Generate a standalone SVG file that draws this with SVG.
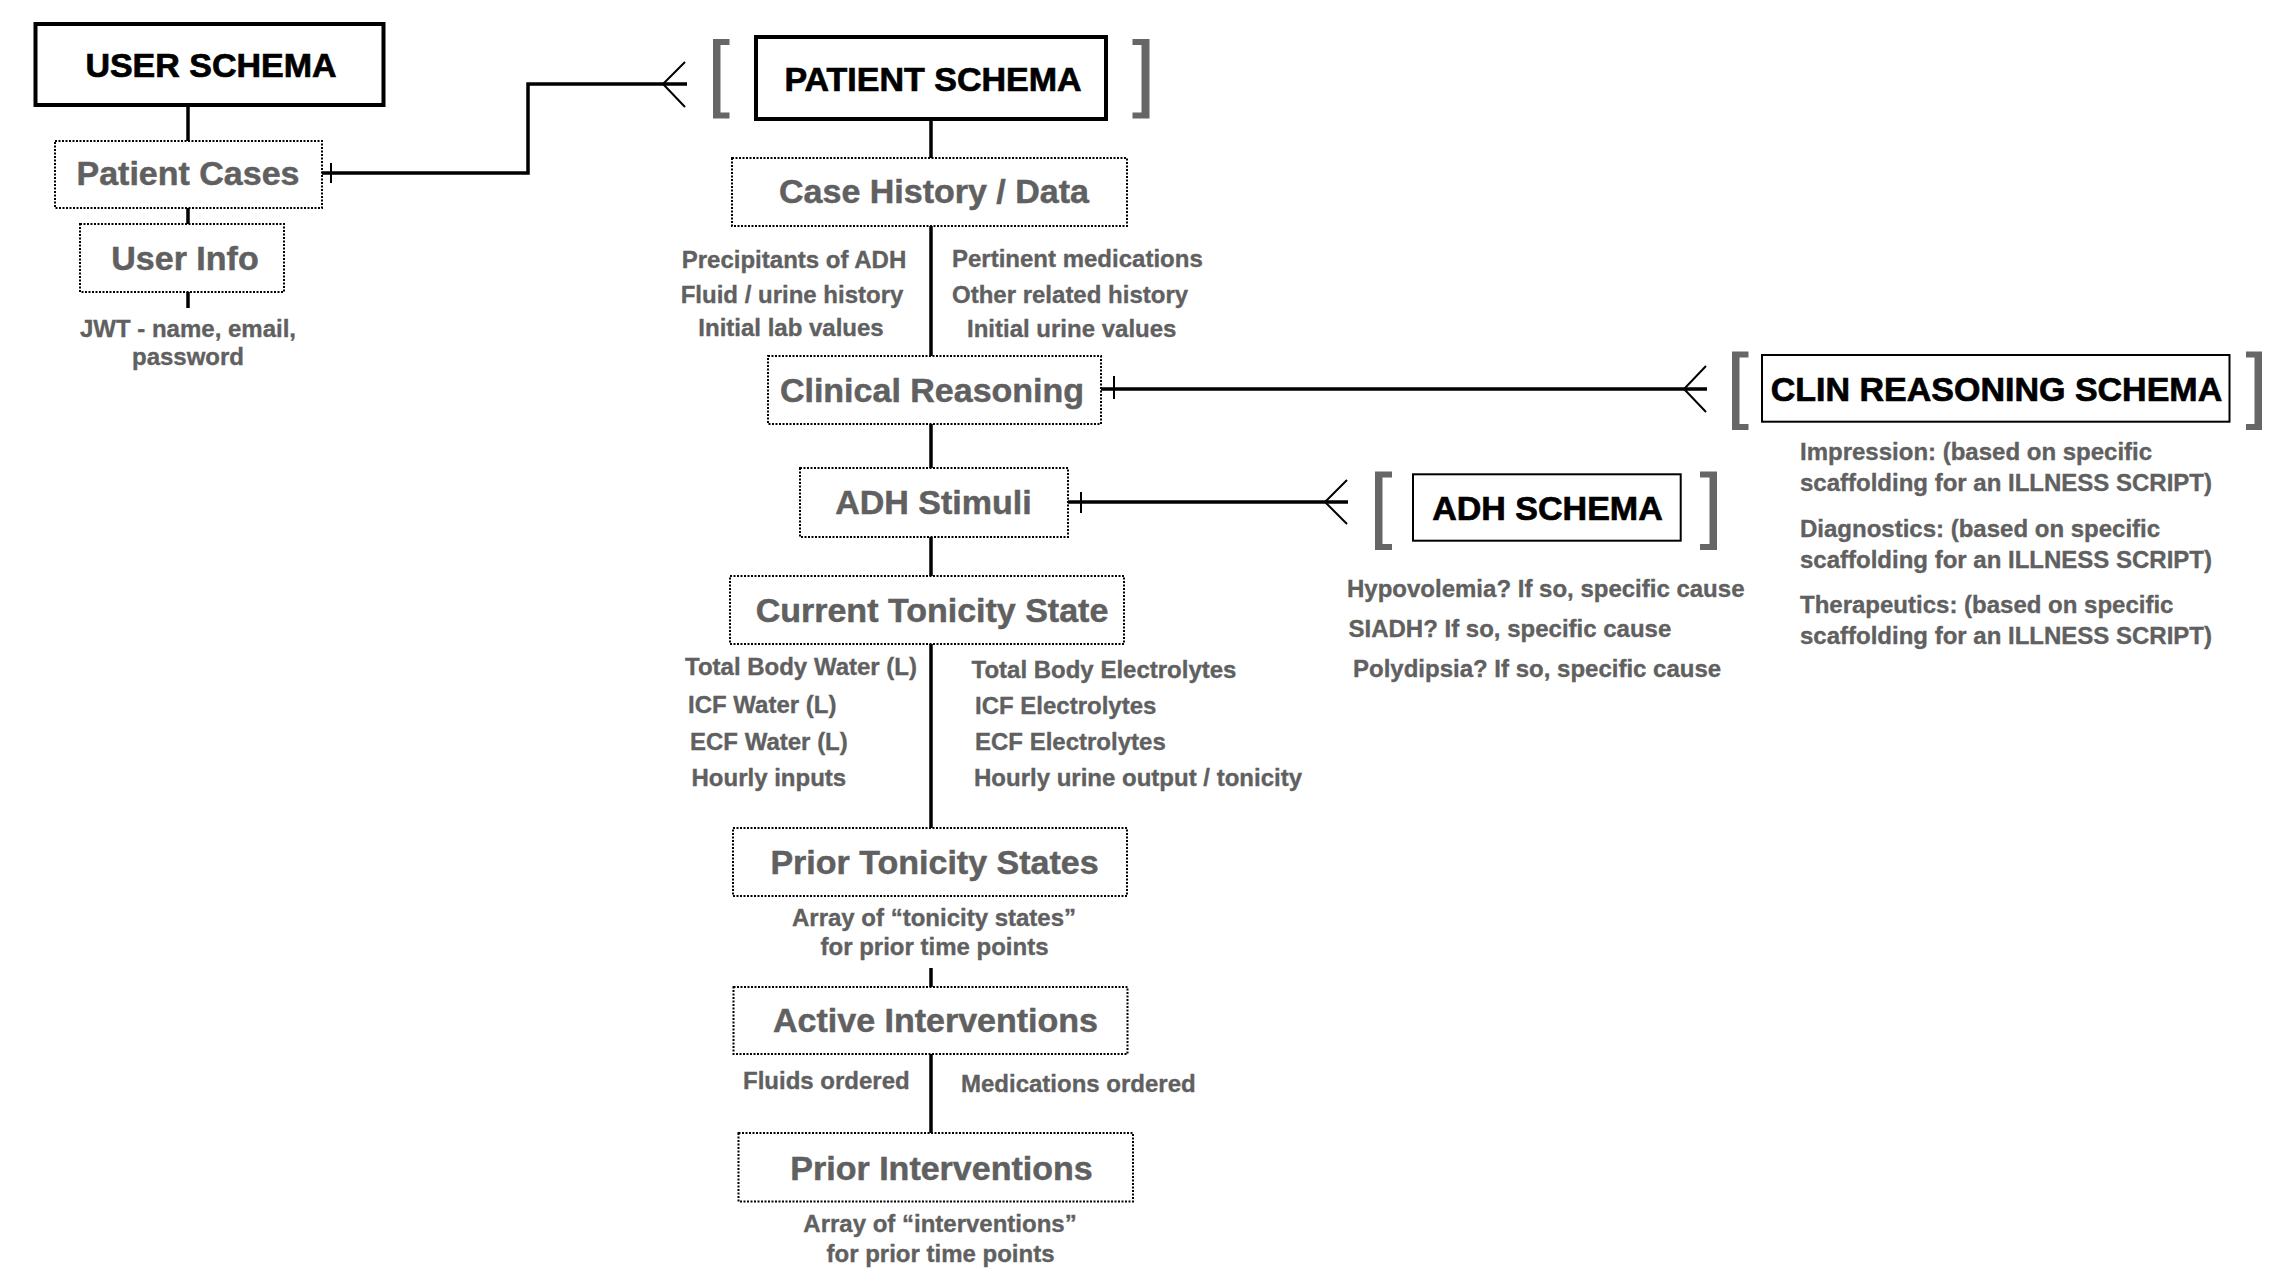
<svg xmlns="http://www.w3.org/2000/svg" width="2276" height="1286" viewBox="0 0 2276 1286">
<style>
  text { font-family: "Liberation Sans", Arial, Helvetica, sans-serif; font-weight: bold; }
  .title { font-size: 34px; fill: #000; stroke: #000; stroke-width: 0.7; text-anchor: middle; }
  .node { font-size: 34px; fill: #606060; stroke: #606060; stroke-width: 0.5; text-anchor: middle; }
  .sub { font-size: 24px; fill: #606060; stroke: #606060; stroke-width: 0.35; }
  .mid { text-anchor: middle; }
  .schema { fill: #fff; stroke: #000; stroke-width: 4; }
  .schema2 { fill: #fff; stroke: #000; stroke-width: 2; }
  .dot { fill: #fff; stroke: #000; stroke-width: 2; stroke-dasharray: 2 1.5; }
  .bracket { fill: #666; }
  .conn { fill: none; stroke: #000; stroke-width: 3.5; }
  .crow { fill: none; stroke: #000; stroke-width: 2; }
</style>
<rect width="2276" height="1286" fill="#fff"/>

<g id="connectors">
  <line class="conn" x1="188" y1="107" x2="188" y2="141"/>
  <line class="conn" x1="188" y1="208" x2="188" y2="224"/>
  <line class="conn" x1="188" y1="292" x2="188" y2="308"/>
  <path class="conn" d="M322 173 H528 V84 H687"/>
  <line class="crow" x1="331" y1="163" x2="331" y2="183"/>
  <path class="crow" d="M685 62 L663 84 L685 107"/>
  <line class="conn" x1="931" y1="121" x2="931" y2="158"/>
  <line class="conn" x1="931" y1="226" x2="931" y2="356"/>
  <line class="conn" x1="931" y1="424" x2="931" y2="468"/>
  <line class="conn" x1="931" y1="537" x2="931" y2="576"/>
  <line class="conn" x1="931" y1="644" x2="931" y2="828"/>
  <line class="conn" x1="931" y1="968" x2="931" y2="987"/>
  <line class="conn" x1="931" y1="1054" x2="931" y2="1133"/>
  <path class="conn" d="M1101 389 H1707"/>
  <line class="crow" x1="1114" y1="376" x2="1114" y2="399"/>
  <path class="crow" d="M1706 366 L1684 389 L1706 412"/>
  <path class="conn" d="M1068 502 H1348"/>
  <line class="crow" x1="1081" y1="492" x2="1081" y2="513"/>
  <path class="crow" d="M1347 480 L1325 502 L1347 524"/>
</g>

<g id="user-schema">
  <rect class="schema" x="35.5" y="24" width="348" height="81"/>
  <text class="title" x="211" y="77">USER SCHEMA</text>
</g>

<g id="patient-cases">
  <rect class="dot" x="55" y="141" width="267" height="67"/>
  <text class="node" x="188" y="185">Patient Cases</text>
</g>

<g id="user-info">
  <rect class="dot" x="80" y="224" width="204" height="68"/>
  <text class="node" x="185" y="270">User Info</text>
  <text class="sub mid" x="188" y="337">JWT - name, email,</text>
  <text class="sub mid" x="188" y="365">password</text>
</g>

<g id="patient-schema">
  <path class="bracket" d="M713 39 H729.5 V45 H720.5 V112.5 H729.5 V118.5 H713 Z"/>
  <rect class="schema" x="756" y="37" width="350" height="82"/>
  <text class="title" x="933" y="91">PATIENT SCHEMA</text>
  <path class="bracket" d="M1149.5 39 H1132.5 V45 H1141.5 V112.5 H1132.5 V118.5 H1149.5 Z"/>
</g>

<g id="case-history">
  <rect class="dot" x="732" y="158" width="395" height="68"/>
  <text class="node" x="934" y="203">Case History / Data</text>
  <text class="sub mid" x="794" y="268">Precipitants of ADH</text>
  <text class="sub mid" x="792" y="302.5">Fluid / urine history</text>
  <text class="sub mid" x="791" y="336">Initial lab values</text>
  <text class="sub" x="952" y="267">Pertinent medications</text>
  <text class="sub" x="952" y="302.5">Other related history</text>
  <text class="sub" x="967" y="336.5">Initial urine values</text>
</g>

<g id="clinical-reasoning">
  <rect class="dot" x="768" y="356" width="333" height="68"/>
  <text class="node" x="932" y="401.5">Clinical Reasoning</text>
</g>

<g id="clin-reasoning-schema">
  <path class="bracket" d="M1732 351.5 H1748.5 V357.5 H1739.5 V424 H1748.5 V430 H1732 Z"/>
  <rect class="schema2" x="1762" y="355" width="467.5" height="66.7"/>
  <text class="title" x="1996.5" y="400.5">CLIN REASONING SCHEMA</text>
  <path class="bracket" d="M2262 351.5 H2246 V357.5 H2254.5 V424 H2246 V430 H2262 Z"/>
  <text class="sub" x="1800" y="460">Impression: (based on specific</text>
  <text class="sub" x="1800" y="491">scaffolding for an ILLNESS SCRIPT)</text>
  <text class="sub" x="1800" y="537">Diagnostics: (based on specific</text>
  <text class="sub" x="1800" y="568">scaffolding for an ILLNESS SCRIPT)</text>
  <text class="sub" x="1800" y="613">Therapeutics: (based on specific</text>
  <text class="sub" x="1800" y="644">scaffolding for an ILLNESS SCRIPT)</text>
</g>

<g id="adh-stimuli">
  <rect class="dot" x="800" y="468" width="268" height="69"/>
  <text class="node" x="933.5" y="514">ADH Stimuli</text>
</g>

<g id="adh-schema">
  <path class="bracket" d="M1375 471.5 H1392 V477.5 H1382.5 V544 H1392 V550 H1375 Z"/>
  <rect class="schema2" x="1413" y="474.3" width="267.7" height="66.4"/>
  <text class="title" x="1547.5" y="520">ADH SCHEMA</text>
  <path class="bracket" d="M1717 471.5 H1700 V477.5 H1709.5 V544 H1700 V550 H1717 Z"/>
  <text class="sub" x="1347" y="597">Hypovolemia? If so, specific cause</text>
  <text class="sub" x="1348.5" y="637">SIADH? If so, specific cause</text>
  <text class="sub" x="1353" y="677">Polydipsia? If so, specific cause</text>
</g>

<g id="current-tonicity-state">
  <rect class="dot" x="730" y="576" width="394" height="68"/>
  <text class="node" x="932" y="621.5">Current Tonicity State</text>
  <text class="sub" x="685" y="675">Total Body Water (L)</text>
  <text class="sub" x="688" y="712.5">ICF Water (L)</text>
  <text class="sub" x="690" y="750">ECF Water (L)</text>
  <text class="sub" x="691.5" y="786">Hourly inputs</text>
  <text class="sub" x="971.5" y="678">Total Body Electrolytes</text>
  <text class="sub" x="975" y="713.5">ICF Electrolytes</text>
  <text class="sub" x="975" y="749.5">ECF Electrolytes</text>
  <text class="sub" x="974" y="785.5">Hourly urine output / tonicity</text>
</g>

<g id="prior-tonicity-states">
  <rect class="dot" x="733" y="828" width="394" height="68"/>
  <text class="node" x="934.5" y="873.5">Prior Tonicity States</text>
  <text class="sub mid" x="934" y="926">Array of “tonicity states”</text>
  <text class="sub mid" x="934.5" y="955">for prior time points</text>
</g>

<g id="active-interventions">
  <rect class="dot" x="733.5" y="987" width="394" height="67"/>
  <text class="node" x="935.5" y="1031.5">Active Interventions</text>
  <text class="sub" x="743" y="1089">Fluids ordered</text>
  <text class="sub" x="961" y="1092">Medications ordered</text>
</g>

<g id="prior-interventions">
  <rect class="dot" x="738.5" y="1133" width="394.5" height="68.5"/>
  <text class="node" x="941.5" y="1180">Prior Interventions</text>
  <text class="sub mid" x="940" y="1232">Array of “interventions”</text>
  <text class="sub mid" x="940.5" y="1262">for prior time points</text>
</g>
</svg>
